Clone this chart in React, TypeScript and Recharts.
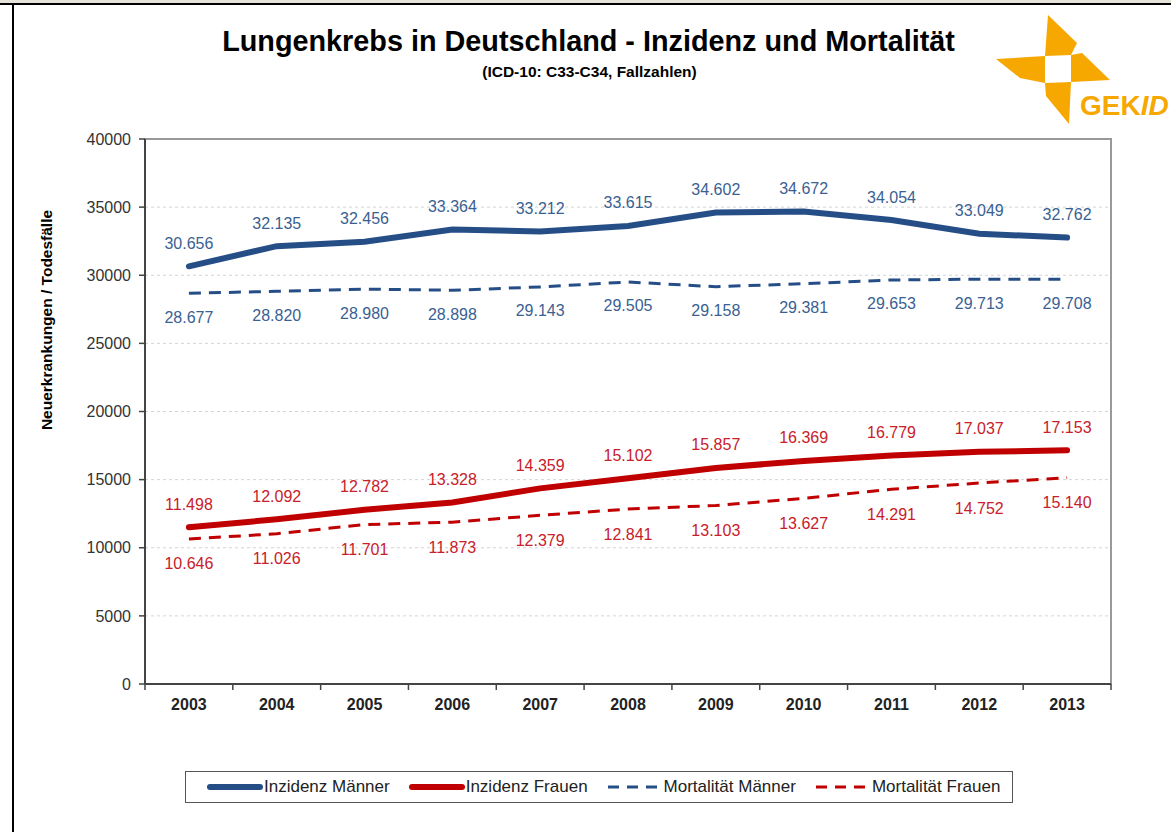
// Lungenkrebs in Deutschland - Inzidenz und Mortalität (GEKID)
import React from 'react';
import {
  ComposedChart, Line, XAxis, YAxis, CartesianGrid, ReferenceArea, LabelList,
} from 'recharts';

const years = ['2003', '2004', '2005', '2006', '2007', '2008', '2009', '2010', '2011', '2012', '2013'];
const inzidenzMaenner = [30656, 32135, 32456, 33364, 33212, 33615, 34602, 34672, 34054, 33049, 32762];
const mortalitaetMaenner = [28677, 28820, 28980, 28898, 29143, 29505, 29158, 29381, 29653, 29713, 29708];
const inzidenzFrauen = [11498, 12092, 12782, 13328, 14359, 15102, 15857, 16369, 16779, 17037, 17153];
const mortalitaetFrauen = [10646, 11026, 11701, 11873, 12379, 12841, 13103, 13627, 14291, 14752, 15140];
const yTicks = [0, 5000, 10000, 15000, 20000, 25000, 30000, 35000, 40000];

const C = {
  blue: '#264E86', blueText: '#3A5F92',
  red: '#C00000', redText: '#C8202A',
  orange: '#F6A800', axis: '#444', frame: '#999', grid: '#D4D4D4',
};

const W = 1171, H = 832;
const M = { top: 139, right: 60, bottom: 118, left: 85 };
const Y_AXIS_W = 60, X_AXIS_H = 30;
const PLOT_W = W - M.left - Y_AXIS_W - M.right;
const BAND = PLOT_W / years.length;
const FONT = '"Liberation Sans", Arial, Helvetica, sans-serif';

const data = years.map((year, i) => ({
  year,
  incM: inzidenzMaenner[i],
  mortM: mortalitaetMaenner[i],
  incF: inzidenzFrauen[i],
  mortF: mortalitaetFrauen[i],
}));

const fmt = (v: number) => String(v).replace(/\B(?=(\d{3})+(?!\d))/g, '.');

const makeLabel = (color: string, dy: number) => (props: any) => {
  const { x, y, value } = props;
  if (x == null || y == null) return null;
  return (
    <text x={x} y={y + dy} textAnchor="middle" dominantBaseline="central"
      fill={color} fontSize={16} fontFamily={FONT}>
      {fmt(value)}
    </text>
  );
};

function YearTick(props: any) {
  const { x, y, payload, index } = props;
  const last = index === years.length - 1;
  return (
    <g>
      <line x1={x - BAND / 2} y1={y} x2={x - BAND / 2} y2={y + 6} stroke={C.axis} strokeWidth={1.5} />
      {last && <line x1={x + BAND / 2} y1={y} x2={x + BAND / 2} y2={y + 6} stroke={C.axis} strokeWidth={1.5} />}
      <text x={x} y={y + 26} textAnchor="middle" fontSize={16} fontWeight={700} fill="#222" fontFamily={FONT}>
        {payload.value}
      </text>
    </g>
  );
}

function Logo() {
  return (
    <svg width={180} height={125} viewBox="990 5 180 125"
      style={{ position: 'absolute', left: 990, top: 5 }}>
      <polygon points="1048,15 1077,43 1071,55 1045,56" fill={C.orange} />
      <polygon points="1071,55 1082,53 1110,80 1071,82" fill={C.orange} />
      <polygon points="1045,83 1071,82 1069,124 1046,96" fill={C.orange} />
      <polygon points="996,59 1045,56 1045,83 1020,78" fill={C.orange} />
      <text x={1080} y={115} fontSize={28} fontWeight={700} fill={C.orange} fontFamily={FONT}>
        GEK<tspan fontStyle="italic">ID</tspan>
      </text>
    </svg>
  );
}

function LegendItem({ color, dashed, label }: { color: string; dashed?: boolean; label: string }) {
  return (
    <div style={{ display: 'flex', alignItems: 'center' }}>
      <svg width={56} height={10}>
        {dashed
          ? <line x1={1} y1={5} x2={55} y2={5} stroke={color} strokeWidth={3} strokeDasharray="11 8" />
          : <line x1={3} y1={5} x2={53} y2={5} stroke={color} strokeWidth={6} strokeLinecap="round" />}
      </svg>
      <span style={{ fontSize: 17, color: '#222', marginLeft: 1 }}>{label}</span>
    </div>
  );
}

export default function App() {
  return (
    <div style={{
      position: 'absolute', left: 0, top: 0, width: W, height: H, background: '#fff',
      overflow: 'hidden', fontFamily: FONT,
    }}>
      {/* window frame */}
      <div style={{ position: 'absolute', left: 0, top: 0, width: W, height: 3, background: '#E6E4DA' }} />
      <div style={{ position: 'absolute', left: 0, top: 3, width: W, height: 2, background: '#000' }} />
      <div style={{ position: 'absolute', left: 12, top: 3, width: 2, height: H - 3, background: '#000' }} />

      <div style={{
        position: 'absolute', left: 0, width: W + 6, top: 25, textAlign: 'center',
        fontSize: 28.8, fontWeight: 700, color: '#000', whiteSpace: 'nowrap',
      }}>
        Lungenkrebs in Deutschland - Inzidenz und Mortalität
      </div>
      <div style={{
        position: 'absolute', left: 0, width: W + 8, top: 63, textAlign: 'center',
        fontSize: 15.5, fontWeight: 700, color: '#000',
      }}>
        (ICD-10: C33-C34, Fallzahlen)
      </div>

      <Logo />

      <div style={{ position: 'absolute', left: 0, top: 0 }}>
        <ComposedChart width={W} height={H} data={data} margin={M}>
          <CartesianGrid vertical={false} stroke={C.grid} strokeDasharray="3 3" />
          <ReferenceArea x1="2003" x2="2013" y1={0} y2={40000} fill="none"
            stroke={C.frame} strokeWidth={2} />
          <XAxis dataKey="year" scale="band" height={X_AXIS_H} tickLine={false} tickSize={0} tickMargin={0}
            axisLine={{ stroke: C.axis, strokeWidth: 2 }} tick={<YearTick />} interval={0} />
          <YAxis width={Y_AXIS_W} domain={[0, 40000]} ticks={yTicks} interval={0}
            tick={{ fontSize: 16, fill: '#333', fontFamily: FONT }} tickSize={6} tickMargin={8}
            tickLine={{ stroke: C.axis, strokeWidth: 1.5 }}
            axisLine={{ stroke: C.axis, strokeWidth: 2 }} />

          <Line dataKey="mortM" stroke={C.blue} strokeWidth={3} strokeDasharray="12 8"
            dot={false} isAnimationActive={false}>
            <LabelList dataKey="mortM" content={makeLabel(C.blueText, 24)} />
          </Line>
          <Line dataKey="mortF" stroke={C.red} strokeWidth={3} strokeDasharray="12 8"
            dot={false} isAnimationActive={false}>
            <LabelList dataKey="mortF" content={makeLabel(C.redText, 25)} />
          </Line>
          <Line dataKey="incM" stroke={C.blue} strokeWidth={6} strokeLinecap="round"
            dot={false} isAnimationActive={false}>
            <LabelList dataKey="incM" content={makeLabel(C.blueText, -23)} />
          </Line>
          <Line dataKey="incF" stroke={C.red} strokeWidth={6} strokeLinecap="round"
            dot={false} isAnimationActive={false}>
            <LabelList dataKey="incF" content={makeLabel(C.redText, -23)} />
          </Line>
        </ComposedChart>
      </div>

      {/* y axis title */}
      <div style={{
        position: 'absolute', left: 47, top: 320, transform: 'translate(-50%, -50%) rotate(-90deg)',
        whiteSpace: 'nowrap', fontSize: 15.5, fontWeight: 700, color: '#000',
      }}>
        Neuerkrankungen / Todesfälle
      </div>

      {/* legend */}
      <div style={{
        position: 'absolute', left: 185, top: 771, width: 828, height: 32, boxSizing: 'border-box',
        border: '1px solid #555', display: 'flex', alignItems: 'center', paddingLeft: 21, gap: 19,
      }}>
        <LegendItem color={C.blue} label="Inzidenz Männer" />
        <LegendItem color={C.red} label="Inzidenz Frauen" />
        <LegendItem color={C.blue} dashed label="Mortalität Männer" />
        <LegendItem color={C.red} dashed label="Mortalität Frauen" />
      </div>
    </div>
  );
}
